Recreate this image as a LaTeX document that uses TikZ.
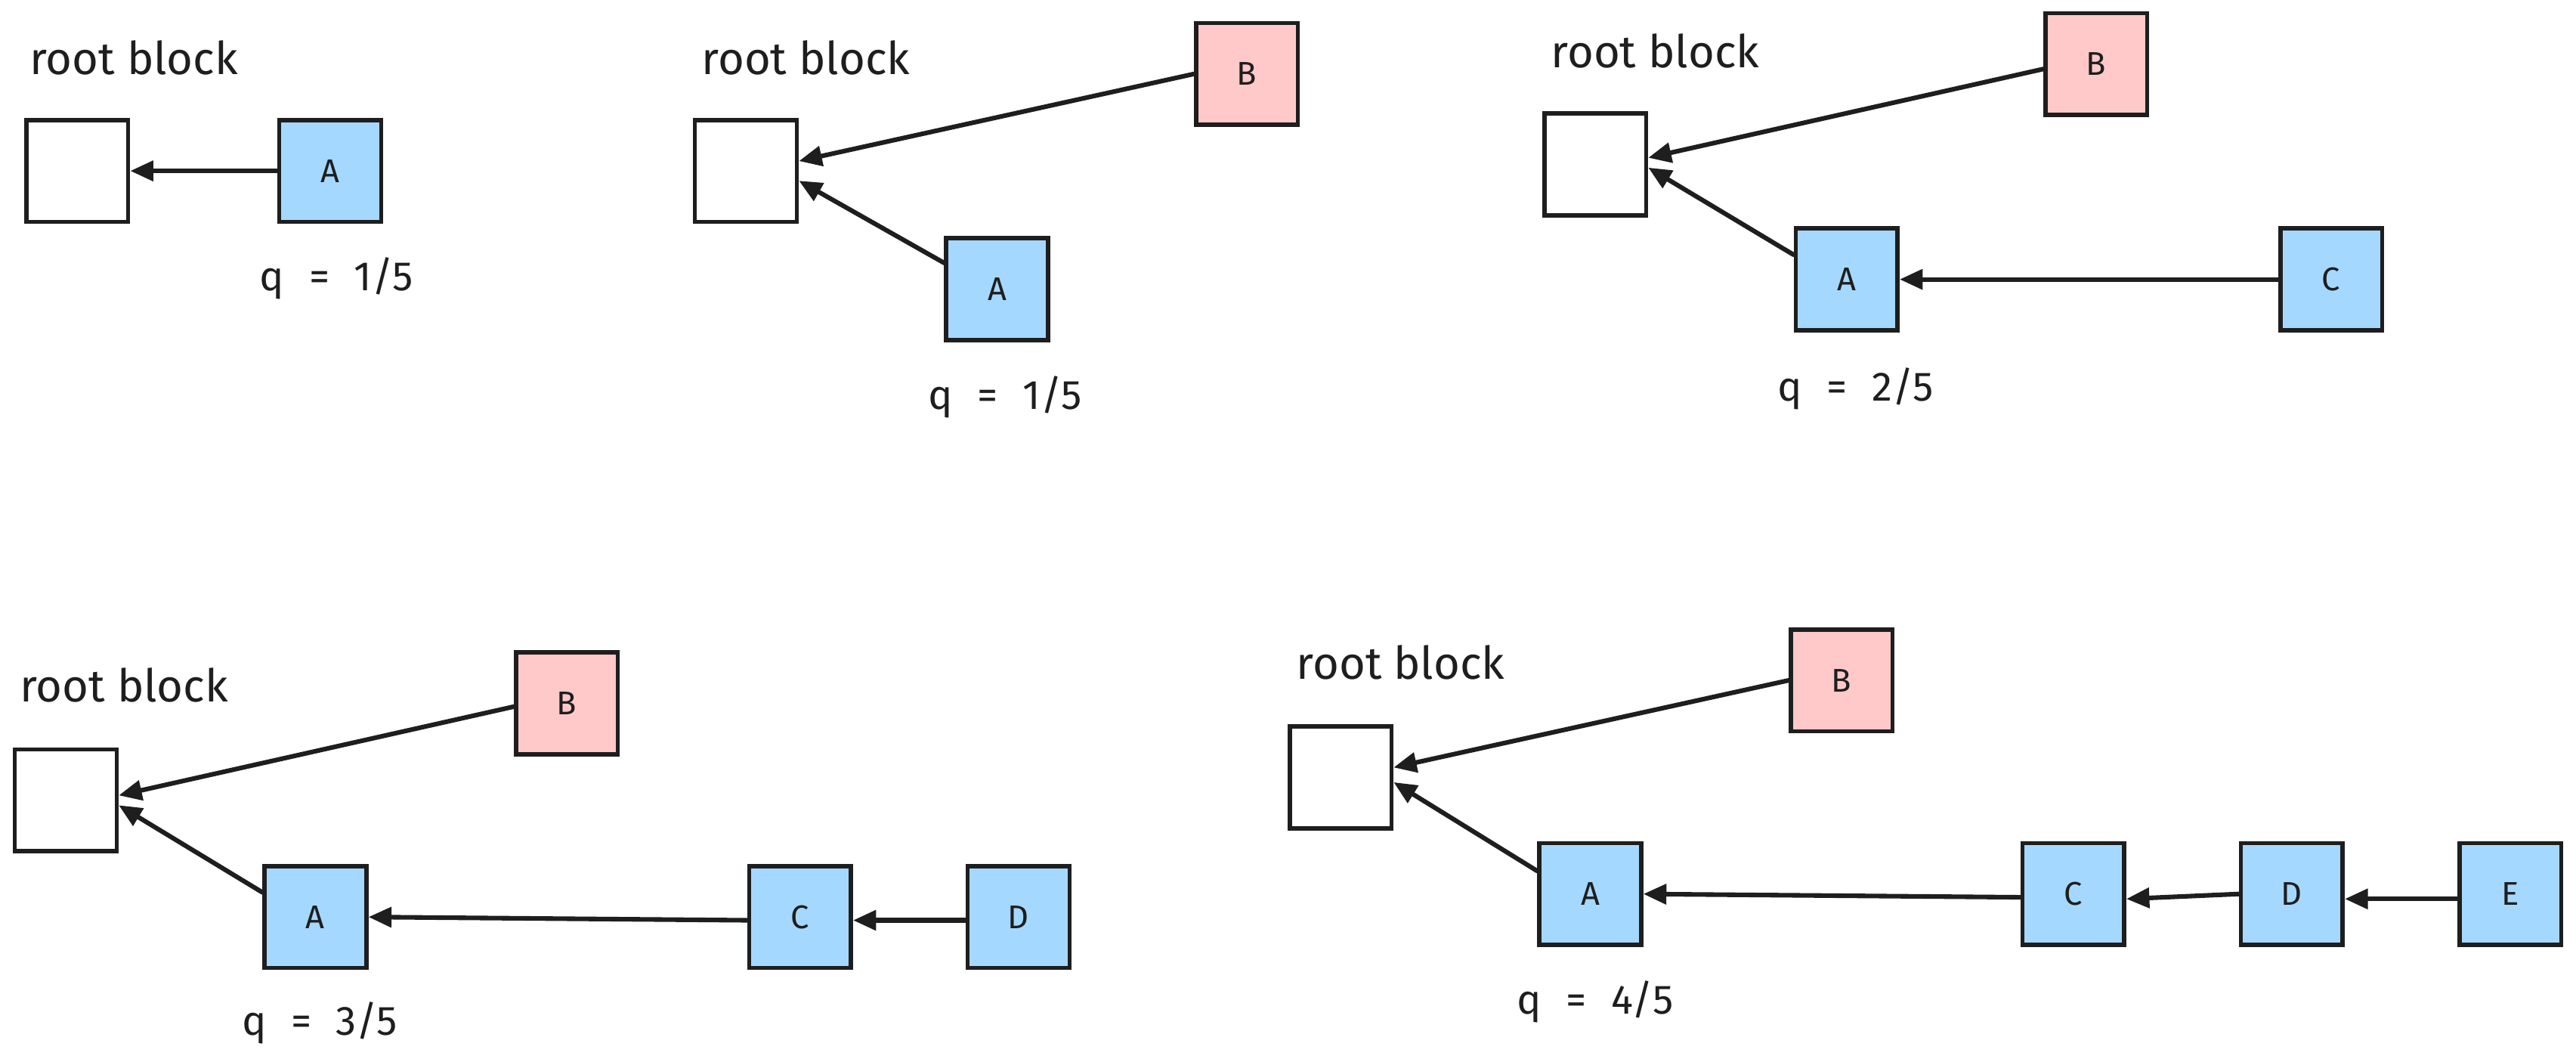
\documentclass[tikz,border=0pt]{standalone}
\usepackage{fontspec}
\setmainfont{Fira Sans}
\usetikzlibrary{arrows.meta}
\definecolor{ink}{HTML}{1E1E1E}
\definecolor{blueblk}{HTML}{A5D8FF}
\definecolor{redblk}{HTML}{FFC9C9}
\tikzset{
  blk/.style={draw=ink, line width=2.6pt, minimum width=62pt, minimum height=62pt,
              inner sep=0pt, font=\fontsize{20}{20}\selectfont, text=ink},
  rootblk/.style={blk, fill=white},
  bluebox/.style={blk, fill=blueblk},
  redbox/.style={blk, fill=redblk},
  rootlabel/.style={anchor=west, inner sep=0pt, font=\fontsize{27.5}{27.5}\selectfont, text=ink},
  qlabel/.style={anchor=base west, inner sep=0pt, font=\fontsize{25}{25}\selectfont, text=ink},
  link/.style={draw=ink, line width=2.8pt, line cap=round,
               -{Triangle[length=14pt,width=12pt]}}
}
\newcommand{\qtext}[1]{q\hspace{0.6em}=\hspace{0.6em}#1}
\begin{document}
\begin{tikzpicture}[x=1pt,y=-1pt]
\useasboundingbox[fill=white] (0,0) rectangle (1568,646);

% ---- step 1 ----
\node[rootlabel] (lab1) at (18,35) {root block};
\node[rootblk] (r1) at (47,104) {};
\node[bluebox] (a1) at (201,104) {A};
\node[qlabel] (q1) at (158,177) {\qtext{1/5}};
\draw[link] (a1.west) -- (r1.east);

% ---- step 2 ----
\node[rootlabel] (lab2) at (427,35) {root block};
\node[rootblk] (r2) at (454,104) {};
\node[redbox] (b2) at (759,45) {B};
\node[bluebox] (a2) at (607,176) {A};
\node[qlabel] (q2) at (565,249) {\qtext{1/5}};
\draw[link] (b2.west) -- ([yshift=6pt]r2.east);
\draw[link] ([yshift=16pt]a2.west) -- ([yshift=-6pt]r2.east);

% ---- step 3 ----
\node[rootlabel] (lab3) at (944,31) {root block};
\node[rootblk] (r3) at (971,100) {};
\node[redbox] (b3) at (1276,39) {B};
\node[bluebox] (a3) at (1124,170) {A};
\node[bluebox] (c3) at (1419,170) {C};
\node[qlabel] (q3) at (1082,244) {\qtext{2/5}};
\draw[link] ([yshift=-3pt]b3.west) -- ([yshift=4pt]r3.east);
\draw[link] ([yshift=15pt]a3.west) -- ([yshift=-2pt]r3.east);
\draw[link] (c3.west) -- (a3.east);

% ---- step 4 ----
\node[rootlabel] (lab4) at (12,417) {root block};
\node[rootblk] (r4) at (40,487) {};
\node[redbox] (b4) at (345,428) {B};
\node[bluebox] (a4) at (192,558) {A};
\node[bluebox] (c4) at (487,558) {C};
\node[bluebox] (d4) at (620,558) {D};
\node[qlabel] (q4) at (147,630) {\qtext{3/5}};
\draw[link] ([yshift=-2pt]b4.west) -- ([yshift=3pt]r4.east);
\draw[link] ([yshift=15pt]a4.west) -- ([yshift=-3pt]r4.east);
\draw[link] ([yshift=-2pt]c4.west) -- (a4.east);
\draw[link] ([yshift=-2pt]d4.west) -- ([yshift=-2pt]c4.east);

% ---- step 5 ----
\node[rootlabel] (lab5) at (789,403) {root block};
\node[rootblk] (r5) at (816,473) {};
\node[redbox] (b5) at (1121,414) {B};
\node[bluebox] (a5) at (968,544) {A};
\node[bluebox] (c5) at (1262,544) {C};
\node[bluebox] (d5) at (1395,544) {D};
\node[bluebox] (e5) at (1528,544) {E};
\node[qlabel] (q5) at (923,617) {\qtext{4/5}};
\draw[link] (b5.west) -- ([yshift=6pt]r5.east);
\draw[link] ([yshift=14pt]a5.west) -- ([yshift=-3pt]r5.east);
\draw[link] ([yshift=-2pt]c5.west) -- (a5.east);
\draw[link] (d5.west) -- ([yshift=-3pt]c5.east);
\draw[link] ([yshift=-3pt]e5.west) -- ([yshift=-3pt]d5.east);
\end{tikzpicture}
\end{document}
